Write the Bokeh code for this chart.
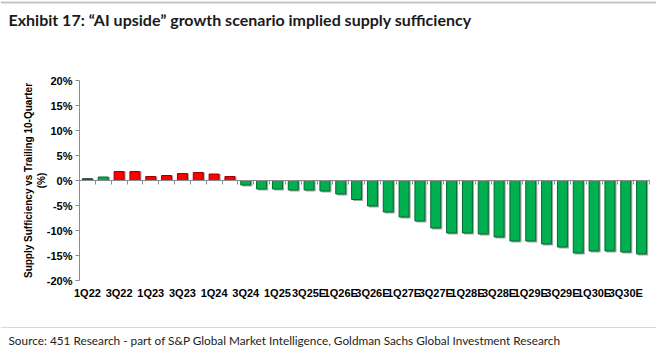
import numpy as np
from bokeh.plotting import figure
from bokeh.models import (ColumnDataSource, Range1d, FixedTicker, PrintfTickFormatter,
                          Label, LinearAxis, Span)
from bokeh.transform import dodge
from bokeh.embed import file_html
from bokeh.resources import INLINE

quarters = ["1Q22", "2Q22", "3Q22", "4Q22", "1Q23", "2Q23", "3Q23", "4Q23",
            "1Q24", "2Q24", "3Q24", "4Q24", "1Q25", "2Q25", "3Q25E", "4Q25E",
            "1Q26E", "2Q26E", "3Q26E", "4Q26E", "1Q27E", "2Q27E", "3Q27E", "4Q27E",
            "1Q28E", "2Q28E", "3Q28E", "4Q28E", "1Q29E", "2Q29E", "3Q29E", "4Q29E",
            "1Q30E", "2Q30E", "3Q30E", "4Q30E"]
sufficiency = [0.35, 0.7, 1.8, 1.8, 0.8, 1.0, 1.4, 1.6, 1.3, 0.8,
               -0.9, -1.7, -1.7, -1.9, -1.9, -2.1, -2.7, -3.8, -5.1, -6.3,
               -7.3, -8.1, -9.5, -10.5, -10.5, -10.7, -11.3, -12.1, -12.1, -12.7,
               -13.3, -14.5, -14.1, -14.1, -14.3, -14.7]
y_ticks = [-20, -15, -10, -5, 0, 5, 10, 15, 20]
y_min, y_max = -20, 20

fills = ["#1E6B3A", "#00B050"] + ["#FF0000"] * 8 + ["#00B050"] * 26
edges = ["#0E3F20", "#006B2E"] + ["#9C0000"] * 8 + ["#006B2E"] * 26

idx = np.arange(len(quarters))
n = len(quarters)
vals = np.array(sufficiency)
src = ColumnDataSource(dict(x=idx, top=vals, fill=fills, edge=edges,
                            shadow=np.where(vals < 0, vals - 0.3, vals)))

# layout in canvas pixels: plot area spans x 79..649, y 80..280
W, H = 656, 352
L, R, T, B = 79, 649, 80, 280
pxx = (R - L) / n
pxy = (B - T) / (y_max - y_min)
x0 = -0.5 - L / pxx
x1 = n - 0.5 + (W - R) / pxx
y1 = y_max + T / pxy
y0 = y_min - (H - B) / pxy

p = figure(width=W, height=H, output_backend="svg", toolbar_location=None,
           x_range=Range1d(x0, x1), y_range=Range1d(y0, y1),
           min_border=0, x_axis_type=None, y_axis_type=None)
p.outline_line_color = None
p.grid.visible = False
p.background_fill_color = "white"
p.border_fill_color = "white"

# shadow
p.vbar(x=dodge("x", 0.1), top="shadow", bottom=0, width=0.63, source=src,
       fill_color="#A8A8A8", line_color=None)
p.vbar(x="x", top="top", bottom=0, width=0.63, source=src,
       fill_color="fill", line_color="edge", line_width=1)

# category labels at bottom of plot area
xa = LinearAxis(fixed_location=y_min, ticker=FixedTicker(ticks=list(idx[::2])),
                major_label_overrides={int(i): quarters[i] for i in idx[::2]},
                axis_line_color=None, major_tick_line_color=None, minor_tick_line_color=None,
                major_label_text_font="Liberation Sans", major_label_text_font_style="bold",
                major_label_text_font_size="11px", major_label_text_color="#000000",
                major_label_standoff=0)
p.add_layout(xa, "below")

# zero line axis with category boundary ticks (minor ticks, no labels)
zx = LinearAxis(fixed_location=0,
                ticker=FixedTicker(ticks=[], minor_ticks=list(np.append(idx - 0.5, n - 0.5))),
                bounds=(-0.5, n - 0.5),
                minor_tick_out=4, minor_tick_in=0, major_tick_line_color=None,
                minor_tick_line_color="#8C8C8C", axis_line_color="#8C8C8C")
p.add_layout(zx, "below")

ya = LinearAxis(fixed_location=-0.5, bounds=(y_min, y_max), ticker=FixedTicker(ticks=y_ticks),
                formatter=PrintfTickFormatter(format="%d%%"),
                axis_line_color="#8C8C8C", major_tick_line_color="#8C8C8C",
                major_tick_out=4, major_tick_in=0, minor_tick_line_color=None,
                major_label_text_font="Liberation Sans", major_label_text_font_style="bold",
                major_label_text_font_size="11px", major_label_text_color="#000000",
                major_label_standoff=3,
                axis_label="Supply Sufficiency vs Trailing 10-Quarter\n(%)",
                axis_label_text_font="Liberation Sans", axis_label_text_font_style="bold",
                axis_label_text_font_size="10px", axis_label_text_color="#000000",
                axis_label_standoff=-3)
p.add_layout(ya, "left")


def lab(cx, cy, text, **kw):
    # canvas (top-left origin) px -> screen units measured from frame bottom-left
    p.add_layout(Label(x=cx, y=H - cy, x_units="screen", y_units="screen", text=text, **kw))


lab(8, 19, "Exhibit 17: \u201cAI upside\u201d growth scenario implied supply sufficiency",
    text_font="Lato", text_font_style="bold", text_font_size="16px", text_baseline="middle",
    text_color="#1a1a1a")
lab(8, 340, "Source: 451 Research - part of S&P Global Market Intelligence, Goldman Sachs Global Investment Research",
    text_font="Lato", text_font_size="11.8px", text_baseline="middle", text_color="#222222")

p.add_layout(Span(location=H - 2, location_units="screen", dimension="width",
                  line_color="#C4C4C4", line_width=2))
p.add_layout(Span(location=H - 327, location_units="screen", dimension="width",
                  line_color="#D9D9D9", line_width=1))

open("out.html", "w").write(file_html(p, INLINE))
